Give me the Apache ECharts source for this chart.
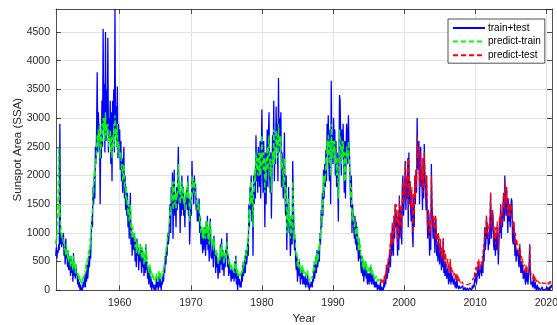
<!DOCTYPE html>
<html>
<head>
<meta charset="utf-8">
<script src="https://cdn.jsdelivr.net/npm/echarts@6/dist/echarts.min.js"></script>
<style>html,body{margin:0;padding:0;background:#fff}#c{width:557px;height:325px}</style>
</head>
<body>
<div id="c"></div>
<script>
// Sampling: monthly values (12 per year)
const stepsPerYear = 12;
const blueStart = 1951.0;
const greenStart = 1951.0;
const redStart = 1996 + 8 / 12;
const xTicks = [1960, 1970, 1980, 1990, 2000, 2010, 2020];
const seriesNames = ['train+test', 'predict-train', 'predict-test'];

// train+test (observed sunspot area)
const trainTest = [
  600, 750, 550, 700, 650, 800, 700, 2900, 800, 1000, 750, 950,          // 1951
  800, 1000, 600, 750, 450, 900, 550, 700, 400, 650, 350, 550,           // 1952
  450, 250, 600, 300, 500, 150, 650, 250, 400, 200, 450, 250,            // 1953
  300, 100, 200, 50, 150, 0, 100, 0, 50, 0, 150, 50,                     // 1954
  100, 250, 50, 300, 150, 450, 200, 350, 600, 400, 700, 550,             // 1955
  1000, 1300, 1100, 1800, 1500, 2000, 1600, 2500, 2200, 2800, 3800, 2400, // 1956
  3100, 2600, 2900, 1500, 2700, 2300, 3300, 2500, 4550, 2800, 3600, 2400, // 1957
  4500, 2600, 3500, 2800, 4400, 2400, 3000, 2600, 3300, 2200, 3100, 1900, // 1958
  3300, 2900, 3500, 2400, 4900, 2700, 3200, 2500, 3550, 2300, 2900, 2500, // 1959
  2800, 2100, 2600, 1900, 2300, 1700, 2100, 2500, 1600, 2000, 1400, 1800, // 1960
  1300, 1700, 1100, 1500, 900, 1200, 1700, 800, 1100, 600, 1000, 800,    // 1961
  700, 1000, 500, 850, 400, 900, 600, 750, 350, 650, 500, 800,           // 1962
  600, 300, 700, 400, 650, 250, 550, 300, 800, 350, 500, 200,            // 1963
  350, 100, 250, 400, 50, 200, 0, 150, 50, 100, 0, 50,                   // 1964
  100, 0, 250, 50, 150, 0, 300, 100, 50, 200, 0, 150,                    // 1965
  100, 250, 150, 400, 300, 600, 450, 750, 600, 1000, 800, 900,           // 1966
  1200, 1500, 1000, 1800, 1400, 2050, 900, 1700, 2100, 1300, 1600, 1100, // 1967
  1800, 1400, 2000, 2500, 1500, 1900, 1000, 1700, 1300, 2000, 1400, 1800, // 1968
  1300, 1600, 1100, 1700, 1500, 1800, 1400, 2000, 1300, 1600, 800, 1200, // 1969
  1600, 1300, 2250, 1700, 1900, 1500, 2000, 1700, 1850, 1400, 1600, 1200, // 1970
  1500, 1200, 1600, 1000, 1300, 800, 1100, 900, 650, 1000, 700, 1100,    // 1971
  900, 600, 1200, 800, 1300, 700, 1000, 500, 1100, 1250, 600, 550,       // 1972
  600, 800, 400, 950, 600, 700, 300, 650, 400, 550, 200, 400,            // 1973
  550, 300, 800, 450, 900, 350, 700, 500, 250, 600, 400, 700,            // 1974
  650, 1000, 400, 600, 250, 500, 300, 350, 150, 400, 200, 300,           // 1975
  350, 150, 500, 200, 600, 100, 300, 0, 250, 100, 200, 50,               // 1976
  150, 50, 300, 150, 450, 250, 350, 600, 300, 700, 450, 550,             // 1977
  900, 600, 1500, 1100, 1800, 1400, 2000, 1200, 1700, 600, 2000, 1500,   // 1978
  2100, 1600, 2700, 1900, 2400, 1700, 2500, 2100, 1800, 2600, 1600, 2400, // 1979
  3150, 2200, 1700, 2600, 2000, 1100, 2400, 1500, 2200, 2800, 1800, 2700, // 1980
  3100, 2100, 1700, 2400, 1250, 2000, 2700, 2200, 3300, 1900, 2600, 2200, // 1981
  3200, 2500, 2900, 1900, 3700, 2400, 3000, 2600, 3100, 1800, 2400, 2000, // 1982
  1600, 2200, 2750, 1700, 1300, 2000, 700, 1500, 1100, 1800, 1000, 1300, // 1983
  600, 900, 1300, 800, 2250, 1500, 1100, 700, 900, 500, 350, 600,        // 1984
  150, 400, 250, 500, 350, 100, 300, 200, 400, 100, 250, 150,            // 1985
  100, 250, 50, 200, 100, 300, 50, 150, 0, 100, 50, 150,                 // 1986
  100, 50, 250, 150, 450, 200, 350, 600, 300, 700, 400, 500,             // 1987
  700, 500, 1000, 800, 1400, 1100, 1700, 1300, 2100, 1600, 2200, 1800,   // 1988
  2450, 1900, 2900, 2400, 3050, 2200, 1900, 2800, 1500, 3650, 2500, 2700, // 1989
  2200, 3000, 2500, 2800, 2000, 2600, 1800, 2400, 2000, 1200, 2200, 3400, // 1990
  3300, 2600, 2000, 2800, 2300, 2900, 2400, 1700, 2600, 1600, 2500, 2900, // 1991
  2700, 2200, 3050, 2500, 2300, 1800, 1450, 2000, 1000, 1500, 1300, 1100, // 1992
  900, 1300, 800, 1200, 700, 1100, 750, 500, 900, 550, 700, 400,         // 1993
  300, 600, 250, 450, 150, 400, 250, 500, 200, 350, 100, 300,            // 1994
  250, 100, 300, 150, 400, 100, 200, 300, 100, 200, 50, 150,             // 1995
  50, 150, 100, 0, 100, 20, 80, 0, 150, 0, 60, 0,                        // 1996
  50, 0, 150, 50, 200, 100, 400, 200, 250, 500, 300, 600,                // 1997
  700, 400, 1000, 600, 1100, 800, 600, 1300, 900, 1500, 1100, 1400,      // 1998
  1000, 600, 1300, 700, 1650, 900, 1200, 1450, 800, 1800, 2000, 1300,    // 1999
  1300, 1800, 2250, 1400, 1900, 1600, 2300, 1100, 2400, 1500, 1900, 1400, // 2000
  1200, 1700, 1000, 750, 1600, 1100, 2000, 1500, 2100, 1700, 3000, 2200, // 2001
  2100, 2600, 1500, 2200, 2500, 1800, 2000, 1400, 2300, 1600, 2550, 2000, // 2002
  1800, 1400, 2000, 1200, 900, 1400, 1300, 600, 1100, 700, 2200, 1500,   // 2003
  1500, 900, 1200, 1000, 650, 1300, 1100, 600, 800, 500, 900, 700,       // 2004
  450, 800, 700, 350, 600, 400, 900, 300, 500, 250, 500, 300,            // 2005
  200, 350, 400, 100, 300, 150, 500, 100, 300, 150, 250, 100,            // 2006
  100, 200, 50, 150, 30, 250, 80, 100, 20, 80, 50, 30,                   // 2007
  50, 0, 30, 80, 0, 20, 0, 50, 0, 20, 0, 40,                             // 2008
  0, 20, 0, 40, 10, 60, 0, 80, 30, 100, 50, 200,                         // 2009
  150, 300, 100, 200, 400, 250, 500, 200, 350, 300, 450, 250,            // 2010
  500, 300, 700, 500, 1100, 700, 850, 1300, 900, 1100, 700, 900,         // 2011
  800, 1200, 1700, 900, 1100, 1400, 1300, 800, 700, 1000, 600, 1000,     // 2012
  700, 1100, 900, 450, 800, 1200, 1000, 1500, 900, 1300, 1100, 1500,     // 2013
  1700, 1200, 2000, 1500, 1300, 1800, 1400, 1000, 1600, 1200, 1500, 1100, // 2014
  1100, 1600, 1550, 900, 800, 1200, 1000, 600, 900, 500, 700, 600,       // 2015
  700, 500, 400, 800, 600, 300, 500, 300, 450, 200, 250, 350,            // 2016
  200, 100, 400, 150, 300, 100, 250, 400, 800, 300, 100, 150,            // 2017
  150, 50, 200, 100, 30, 150, 80, 0, 20, 100, 0, 50,                     // 2018
  20, 50, 0, 30, 0, 60, 10, 0, 30, 0, 10, 0,                             // 2019
  30, 0, 50, 0, 20, 60, 0, 80, 40, 100                                   // 2020
];

// predict-train
const predictTrain = [
  800, 950, 900, 1200, 1600, 2500, 1300, 1500, 1000, 1100, 900, 1000,    // 1951
  900, 800, 850, 700, 750, 600, 800, 650, 550, 700, 500, 600,            // 1952
  550, 400, 600, 450, 500, 350, 600, 400, 500, 300, 450, 350,            // 1953
  350, 250, 300, 200, 250, 150, 200, 100, 150, 100, 250, 200,            // 1954
  250, 350, 300, 450, 350, 550, 500, 650, 700, 600, 900, 800,            // 1955
  1100, 1300, 1400, 1800, 1700, 2100, 1900, 2300, 2200, 2500, 2700, 2500, // 1956
  2800, 2600, 2900, 2300, 2700, 2500, 2900, 2600, 3000, 2800, 3000, 2600, // 1957
  3100, 2700, 2900, 2800, 2900, 2500, 2700, 2600, 2800, 2400, 2700, 2300, // 1958
  2600, 2700, 2800, 2500, 3050, 2700, 2800, 2500, 2900, 2400, 2600, 2500, // 1959
  2500, 2300, 2400, 2100, 2200, 1900, 2000, 2200, 1800, 1900, 1600, 1800, // 1960
  1500, 1600, 1300, 1500, 1200, 1300, 1500, 1000, 1200, 900, 1100, 1000, // 1961
  900, 1000, 750, 900, 650, 850, 700, 800, 600, 700, 650, 800,           // 1962
  700, 550, 750, 550, 700, 450, 650, 500, 800, 500, 600, 400,            // 1963
  450, 300, 400, 450, 250, 350, 200, 300, 200, 250, 150, 200,            // 1964
  200, 150, 300, 200, 250, 150, 350, 250, 200, 300, 200, 300,            // 1965
  250, 350, 300, 450, 450, 650, 600, 800, 750, 1000, 950, 1050,          // 1966
  1200, 1400, 1300, 1700, 1600, 1900, 1400, 1700, 1900, 1500, 1700, 1400, // 1967
  1700, 1600, 1900, 2200, 1700, 1900, 1500, 1700, 1600, 1900, 1600, 1800, // 1968
  1500, 1600, 1400, 1700, 1600, 1800, 1600, 1900, 1600, 1700, 1200, 1400, // 1969
  1600, 1500, 2000, 1800, 1900, 1700, 1900, 1800, 1800, 1600, 1600, 1400, // 1970
  1500, 1400, 1500, 1200, 1300, 1000, 1100, 1000, 900, 1100, 900, 1100,  // 1971
  1000, 900, 1200, 1000, 1200, 900, 1100, 800, 1100, 1200, 900, 800,     // 1972
  800, 900, 700, 900, 800, 800, 600, 700, 600, 650, 450, 550,            // 1973
  600, 500, 750, 600, 800, 550, 700, 600, 450, 650, 550, 700,            // 1974
  700, 850, 600, 650, 450, 550, 450, 450, 350, 450, 350, 400,            // 1975
  400, 300, 500, 350, 550, 300, 400, 250, 350, 250, 300, 250,            // 1976
  300, 250, 350, 300, 500, 400, 450, 600, 500, 700, 600, 650,            // 1977
  900, 800, 1400, 1200, 1700, 1500, 1900, 1500, 1700, 1100, 1900, 1700,  // 1978
  2100, 1900, 2400, 2100, 2300, 2000, 2400, 2200, 2000, 2400, 2000, 2300, // 1979
  2700, 2300, 2100, 2400, 2200, 1700, 2300, 1900, 2200, 2500, 2100, 2500, // 1980
  2700, 2300, 2000, 2300, 1700, 2100, 2400, 2200, 2800, 2200, 2500, 2300, // 1981
  2800, 2500, 2700, 2300, 2900, 2500, 2700, 2500, 2700, 2100, 2300, 2100, // 1982
  1800, 2100, 2300, 1800, 1500, 1800, 1000, 1400, 1200, 1600, 1100, 1300, // 1983
  900, 1000, 1300, 1000, 1900, 1600, 1300, 900, 1000, 700, 600, 650,     // 1984
  400, 500, 400, 550, 450, 300, 400, 350, 450, 300, 400, 300,            // 1985
  300, 350, 250, 300, 250, 350, 200, 250, 150, 200, 200, 250,            // 1986
  250, 200, 350, 300, 500, 350, 450, 600, 450, 650, 500, 550,            // 1987
  800, 700, 1000, 900, 1300, 1200, 1600, 1400, 2000, 1700, 2000, 1900,   // 1988
  2300, 2100, 2600, 2400, 2700, 2300, 2200, 2600, 2000, 2900, 2500, 2600, // 1989
  2300, 2600, 2400, 2600, 2200, 2400, 2000, 2300, 2000, 1600, 2200, 2800, // 1990
  2800, 2500, 2200, 2600, 2300, 2600, 2400, 1900, 2400, 1900, 2300, 2500, // 1991
  2500, 2300, 2600, 2300, 2200, 1900, 1600, 1800, 1200, 1400, 1400, 1200, // 1992
  1100, 1200, 950, 1100, 900, 1100, 900, 700, 900, 700, 800, 600,        // 1993
  500, 600, 400, 550, 350, 500, 400, 500, 350, 450, 300, 400,            // 1994
  350, 300, 400, 300, 450, 250, 300, 350, 250, 300, 200, 250,            // 1995
  200, 250, 200, 150, 200, 150, 200                                      // 1996
];

// predict-test
const predictTest = [
  150, 200, 120, 180,                                                    // 1996
  150, 100, 250, 150, 300, 200, 450, 300, 400, 550, 400, 600,            // 1997
  800, 600, 1000, 800, 1200, 900, 800, 1300, 1000, 1500, 1200, 1500,     // 1998
  1100, 800, 1400, 900, 1600, 1100, 1300, 1500, 1000, 1800, 1900, 1500,  // 1999
  1500, 1900, 2200, 1600, 2000, 1800, 2300, 1400, 2300, 1700, 1900, 1600, // 2000
  1400, 1800, 1300, 1000, 1700, 1300, 2000, 1600, 2100, 1800, 2700, 2300, // 2001
  2300, 2500, 1800, 2200, 2400, 1900, 2100, 1700, 2300, 1800, 2400, 2100, // 2002
  1900, 1600, 2000, 1400, 1100, 1400, 1400, 900, 1200, 1000, 2000, 1600, // 2003
  1600, 1100, 1300, 1200, 900, 1300, 1200, 800, 1000, 800, 1000, 900,    // 2004
  650, 900, 800, 550, 750, 600, 900, 500, 700, 450, 650, 500,            // 2005
  400, 500, 550, 300, 450, 350, 550, 300, 400, 300, 350, 250,            // 2006
  250, 300, 200, 300, 150, 300, 200, 250, 150, 200, 150, 150,            // 2007
  150, 100, 150, 150, 100, 120, 100, 130, 100, 110, 100, 120,            // 2008
  100, 110, 100, 130, 120, 150, 120, 180, 150, 220, 180, 300,            // 2009
  300, 400, 250, 350, 500, 400, 550, 350, 450, 400, 500, 400,            // 2010
  600, 500, 800, 700, 1100, 900, 1000, 1300, 1000, 1200, 900, 1000,      // 2011
  1000, 1300, 1700, 1100, 1200, 1400, 1400, 1000, 900, 1100, 800, 1100,  // 2012
  900, 1200, 1000, 700, 1000, 1300, 1200, 1500, 1100, 1400, 1200, 1500,  // 2013
  1700, 1400, 1900, 1600, 1500, 1800, 1500, 1300, 1600, 1300, 1500, 1300, // 2014
  1300, 1500, 1500, 1100, 1000, 1200, 1100, 800, 1000, 700, 900, 800,    // 2015
  800, 650, 600, 800, 700, 500, 600, 450, 550, 400, 400, 450,            // 2016
  350, 300, 450, 300, 400, 300, 350, 450, 800, 400, 300, 300,            // 2017
  300, 200, 300, 250, 150, 250, 200, 150, 150, 200, 150, 150,            // 2018
  150, 180, 120, 150, 120, 160, 120, 100, 130, 100, 120, 100,            // 2019
  150, 100, 150, 100, 120, 150, 100, 160, 130, 150                       // 2020
];

function toPairs(start, vals) {
  return vals.map((v, i) => [start + i / stepsPerYear, v]);
}

const axisColor = '#262626';
const font = 'Liberation Sans, Arial, Helvetica, sans-serif';
const xMin = 1951.04, xMax = 2020.8, yMax = 4900;
const plain = v => String(v);

const chart = echarts.init(document.getElementById('c'), null, {renderer: 'canvas'});
chart.setOption({
  animation: false,
  backgroundColor: '#ffffff',
  grid: {left: 56, right: 5, top: 9, bottom: 34.7, containLabel: false, outerBoundsMode: 'none'},
  legend: {
    data: seriesNames,
    orient: 'vertical',
    left: 448, top: 19,
    padding: [3, 4, 2, 4],
    itemGap: 1.6,
    itemWidth: 32,
    itemHeight: 12,
    itemStyle: {opacity: 0},
    backgroundColor: '#ffffff',
    borderColor: axisColor,
    borderWidth: 0.8,
    borderRadius: 0,
    textStyle: {fontFamily: font, fontSize: 10, color: '#000', padding: [0, 0, 0, -2], lineHeight: 12}
  },
  xAxis: [{
    type: 'value', min: xMin, max: xMax,
    name: 'Year', nameLocation: 'middle', nameGap: 23, nameMoveOverlap: false,
    nameTextStyle: {fontFamily: font, fontSize: 11.5, color: axisColor},
    axisLine: {show: true, onZero: false, lineStyle: {color: axisColor, width: 0.8}},
    axisTick: {show: true, inside: true, length: 5, customValues: xTicks, lineStyle: {color: axisColor, width: 0.8}},
    axisLabel: {customValues: xTicks, formatter: plain, margin: 7, fontFamily: font, fontSize: 10.5, color: axisColor},
    splitLine: {show: true, lineStyle: {color: '#e3e3e3', width: 1}}
  }, {
    type: 'value', min: xMin, max: xMax, position: 'top',
    axisLine: {show: true, onZero: false, lineStyle: {color: axisColor, width: 0.8}},
    axisTick: {show: true, inside: true, length: 5, customValues: xTicks, lineStyle: {color: axisColor, width: 0.8}},
    axisLabel: {show: false},
    splitLine: {show: false}
  }],
  yAxis: [{
    type: 'value', min: 0, max: yMax, interval: 500,
    name: 'Sunspot Area (SSA)', nameLocation: 'middle', nameGap: 32, nameRotate: 90, nameMoveOverlap: false,
    nameTextStyle: {fontFamily: font, fontSize: 11.5, color: axisColor},
    axisLine: {show: true, onZero: false, lineStyle: {color: axisColor, width: 0.8}},
    axisTick: {show: true, inside: true, length: 5, lineStyle: {color: axisColor, width: 0.8}},
    axisLabel: {margin: 6, formatter: plain, fontFamily: font, fontSize: 10.5, color: axisColor, showMaxLabel: false},
    splitLine: {show: true, lineStyle: {color: '#e3e3e3', width: 1}}
  }, {
    type: 'value', min: 0, max: yMax, interval: 500, position: 'right',
    axisLine: {show: true, onZero: false, lineStyle: {color: axisColor, width: 0.8}},
    axisTick: {show: true, inside: true, length: 5, lineStyle: {color: axisColor, width: 0.8}},
    axisLabel: {show: false},
    splitLine: {show: false}
  }],
  series: [{
    name: seriesNames[0], type: 'line', data: toPairs(blueStart, trainTest),
    showSymbol: false, symbol: 'none', clip: true,
    lineStyle: {color: '#0000ff', width: 1.3}, itemStyle: {color: '#0000ff'}
  }, {
    name: seriesNames[1], type: 'line', data: toPairs(greenStart, predictTrain),
    showSymbol: false, symbol: 'none', clip: true,
    lineStyle: {color: '#00ff00', width: 1.4, type: [5, 3]}, itemStyle: {color: '#00ff00'}
  }, {
    name: seriesNames[2], type: 'line', data: toPairs(redStart, predictTest),
    showSymbol: false, symbol: 'none', clip: true,
    lineStyle: {color: '#ff0000', width: 1.2, type: [5, 3]}, itemStyle: {color: '#ff0000'}
  }]
});
</script>
</body>
</html>
